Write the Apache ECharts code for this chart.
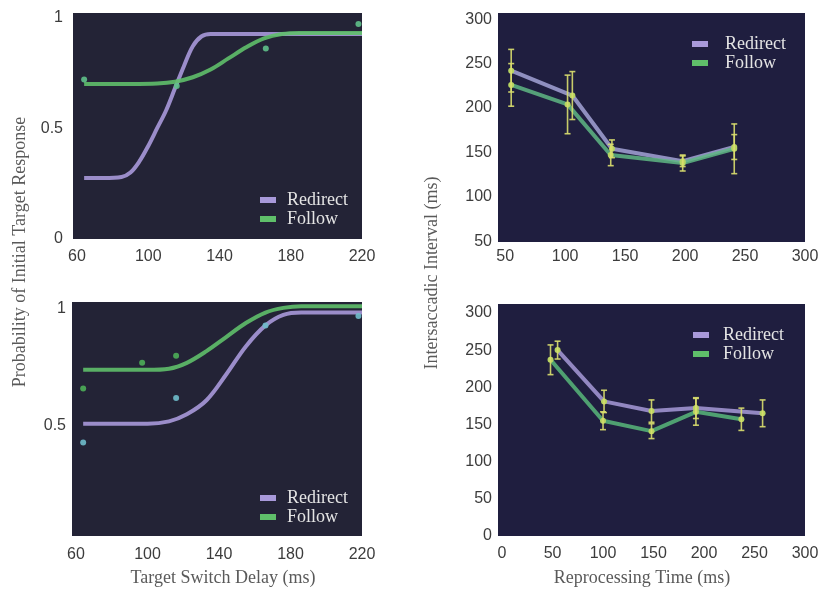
<!DOCTYPE html>
<html>
<head>
<meta charset="utf-8">
<script src="https://cdn.jsdelivr.net/npm/echarts@6/dist/echarts.min.js"></script>
<style>
  html, body { margin: 0; padding: 0; background: #ffffff; }
  #chart { width: 822px; height: 590px; }
</style>
</head>
<body>
<div id="chart"></div>
<script>
// ---- Probability of initial target response vs. target switch delay ----
// upper panel: fitted curves
const tlRedirectFitX = [64, 75, 85, 90, 95, 100, 105, 110, 115, 120, 125, 130, 135, 140, 220];
const tlRedirectFitY = [0.275, 0.275, 0.28, 0.30, 0.35, 0.42, 0.50, 0.58, 0.68, 0.78, 0.87, 0.915, 0.925, 0.925, 0.925];
const tlFollowFitX = [64, 90, 105, 115, 125, 135, 145, 155, 165, 175, 185, 220];
const tlFollowFitY = [0.70, 0.70, 0.702, 0.71, 0.73, 0.765, 0.815, 0.865, 0.905, 0.925, 0.93, 0.93];
// upper panel: measured points
const tlPointsX = [64, 116, 166, 218];
const tlPointsY = [0.72, 0.69, 0.86, 0.97];

// lower panel: fitted curves
const blRedirectFitX = [64, 100, 112, 122, 133, 144, 155, 166, 176, 186, 220];
const blRedirectFitY = [0.51, 0.51, 0.52, 0.55, 0.61, 0.72, 0.84, 0.93, 0.975, 0.985, 0.985];
const blFollowFitX = [64, 100, 112, 122, 133, 144, 155, 166, 176, 186, 220];
const blFollowFitY = [0.74, 0.74, 0.745, 0.77, 0.82, 0.88, 0.94, 0.985, 1.005, 1.012, 1.012];
// lower panel: measured points
const blRedirectPtsX = [64, 116, 166, 218];
const blRedirectPtsY = [0.43, 0.62, 0.93, 0.97];
const blFollowPtsX = [64, 97, 116];
const blFollowPtsY = [0.66, 0.77, 0.80];

// ---- Intersaccadic interval vs. reprocessing time ----
const trRedirectX = [55, 106, 139, 198, 241];
const trRedirectY = [242, 214, 154, 140, 156];
const trRedirectErr = [24, 27, 10, 6, 14];
const trFollowX = [55, 102, 138, 198, 241];
const trFollowY = [226, 204, 147, 138, 154];
const trFollowErr = [24, 33, 12, 9, 28];

const brRedirectX = [55, 101, 148, 192, 258];
const brRedirectY = [250, 181, 168, 172, 165];
const brRedirectErr = [12, 15, 15, 14, 18];
const brFollowX = [48, 100, 148, 192, 237];
const brFollowY = [237, 155, 141, 167, 157];
const brFollowErr = [20, 12, 10, 18, 15];

// tick labels
const delayTicks = [60, 100, 140, 180, 220];
const probTicksTop = [0, 0.5, 1];
const probTicksBottom = [0.5, 1];
const intervalTicksTop = [50, 100, 150, 200, 250, 300];
const reprocTicksTop = [50, 100, 150, 200, 250, 300];
const intervalTicksBottom = [0, 50, 100, 150, 200, 250, 300];
const reprocTicksBottom = [0, 50, 100, 150, 200, 250, 300];

const PURPLE = '#a899da';
const GREEN = '#5fbf6a';
const ERRC = '#d9de6e';
const LEFT_BG = '#232336';
const RIGHT_BG = '#1f1e3f';
const SANS = '"Liberation Sans", Arial, sans-serif';
const SERIF = '"Liberation Serif", "Times New Roman", serif';

const zip = (xs, ys) => xs.map((x, i) => [x, ys[i]]);
const errRows = (xs, ys, es) => xs.map((x, i) => [x, ys[i] - es[i], ys[i] + es[i]]);

function errorBar(params, api) {
  const x = api.value(0);
  const lo = api.coord([x, api.value(1)]);
  const hi = api.coord([x, api.value(2)]);
  const cap = 3;
  const style = { stroke: ERRC, lineWidth: 1.6, opacity: 0.9 };
  return {
    type: 'group',
    children: [
      { type: 'line', shape: { x1: hi[0], y1: hi[1], x2: lo[0], y2: lo[1] }, style },
      { type: 'line', shape: { x1: hi[0] - cap, y1: hi[1], x2: hi[0] + cap, y2: hi[1] }, style },
      { type: 'line', shape: { x1: lo[0] - cap, y1: lo[1], x2: lo[0] + cap, y2: lo[1] }, style }
    ]
  };
}

function grid(left, top, width, height, bg) {
  return { left, top, width, height, show: true, backgroundColor: bg, borderWidth: 0, containLabel: false };
}

function axis(gridIndex, min, max, ticks, margin) {
  return {
    type: 'value', gridIndex, min, max,
    axisLine: { show: false },
    axisTick: { show: false },
    splitLine: { show: false },
    axisLabel: {
      customValues: ticks,
      color: '#3c3c3c', fontFamily: SANS, fontSize: 16, margin
    }
  };
}

function fitLine(name, xi, yi, xs, ys, color) {
  return {
    name, type: 'line', xAxisIndex: xi, yAxisIndex: yi,
    data: zip(xs, ys), smooth: 0.35, showSymbol: false,
    lineStyle: { color, width: 4, opacity: 0.9 }, itemStyle: { color },
    z: 3
  };
}

function pointSet(name, xi, yi, xs, ys, color) {
  return {
    name, type: 'scatter', xAxisIndex: xi, yAxisIndex: yi,
    data: zip(xs, ys), symbol: 'circle', symbolSize: 6,
    itemStyle: { color, opacity: 0.9 }, z: 4
  };
}

function dataLine(name, xi, yi, xs, ys, color) {
  return {
    name, type: 'line', xAxisIndex: xi, yAxisIndex: yi,
    data: zip(xs, ys), showSymbol: true, symbol: 'circle', symbolSize: 6,
    lineStyle: { color, width: 4, opacity: 0.85 }, itemStyle: { color: '#b7d462' },
    z: 3
  };
}

function errSeries(xi, yi, xs, ys, es) {
  return {
    type: 'custom', xAxisIndex: xi, yAxisIndex: yi,
    renderItem: errorBar, data: errRows(xs, ys, es),
    encode: { x: 0, y: [1, 2] }, z: 5, silent: true
  };
}

function legend(left, top, textPad) {
  return {
    orient: 'vertical', left, top, itemGap: 1,
    itemWidth: 16, itemHeight: 6, icon: 'rect',
    data: [
      { name: 'Redirect', itemStyle: { color: PURPLE } },
      { name: 'Follow', itemStyle: { color: GREEN } }
    ],
    textStyle: { color: '#e4e4e4', fontFamily: SERIF, fontSize: 18, lineHeight: 18, padding: [0, 0, 0, textPad] },
    selectedMode: false
  };
}

const option = {
  animation: false,
  backgroundColor: '#ffffff',
  grid: [
    grid(73, 13, 289, 226, LEFT_BG),
    grid(72, 302, 290, 234, LEFT_BG),
    grid(498, 13, 307, 229, RIGHT_BG),
    grid(498, 304, 307, 232, RIGHT_BG)
  ],
  xAxis: [
    axis(0, 57.75, 220, delayTicks, 10),
    axis(1, 57.75, 220, delayTicks, 11),
    axis(2, 44, 300, reprocTicksTop, 7),
    axis(3, -4, 300, reprocTicksBottom, 10)
  ],
  yAxis: [
    axis(0, 0, 1.02, probTicksTop, 10),
    axis(1, 0.03, 1.03, probTicksBottom, 6),
    axis(2, 49, 307, intervalTicksTop, 6),
    axis(3, 0, 312, intervalTicksBottom, 6)
  ],
  legend: [
    legend(255, 186, 6),
    legend(255, 484, 6),
    legend(687, 30, 12),
    legend(688, 321, 9)
  ],
  graphic: [
    { type: 'text', x: 20, y: 252, rotation: Math.PI / 2, style: { text: 'Probability of Initial Target Response', fill: '#5a5a5a', font: '18px ' + SERIF, align: 'center', verticalAlign: 'middle' } },
    { type: 'text', x: 432, y: 273, rotation: Math.PI / 2, style: { text: 'Intersaccadic Interval (ms)', fill: '#5a5a5a', font: '18px ' + SERIF, align: 'center', verticalAlign: 'middle' } },
    { type: 'text', x: 223, y: 578, style: { text: 'Target Switch Delay (ms)', fill: '#5a5a5a', font: '18px ' + SERIF, align: 'center', verticalAlign: 'middle' } },
    { type: 'text', x: 642, y: 578, style: { text: 'Reprocessing Time (ms)', fill: '#5a5a5a', font: '18px ' + SERIF, align: 'center', verticalAlign: 'middle' } }
  ],
  series: [
    fitLine('Redirect', 0, 0, tlRedirectFitX, tlRedirectFitY, PURPLE),
    fitLine('Follow', 0, 0, tlFollowFitX, tlFollowFitY, GREEN),
    pointSet('Measured', 0, 0, tlPointsX, tlPointsY, '#5fc08a'),

    fitLine('Redirect', 1, 1, blRedirectFitX, blRedirectFitY, PURPLE),
    fitLine('Follow', 1, 1, blFollowFitX, blFollowFitY, GREEN),
    pointSet('Redirect measured', 1, 1, blRedirectPtsX, blRedirectPtsY, '#6fbccb'),
    pointSet('Follow measured', 1, 1, blFollowPtsX, blFollowPtsY, '#4cae58'),

    dataLine('Redirect', 2, 2, trRedirectX, trRedirectY, '#a3a3d6'),
    dataLine('Follow', 2, 2, trFollowX, trFollowY, '#5fb784'),
    errSeries(2, 2, trRedirectX, trRedirectY, trRedirectErr),
    errSeries(2, 2, trFollowX, trFollowY, trFollowErr),

    dataLine('Redirect', 3, 3, brRedirectX, brRedirectY, '#a79ad8'),
    dataLine('Follow', 3, 3, brFollowX, brFollowY, '#58b77a'),
    errSeries(3, 3, brRedirectX, brRedirectY, brRedirectErr),
    errSeries(3, 3, brFollowX, brFollowY, brFollowErr)
  ]
};

const chart = echarts.init(document.getElementById('chart'), null, { renderer: 'canvas' });
chart.setOption(option);
</script>
</body>
</html>
